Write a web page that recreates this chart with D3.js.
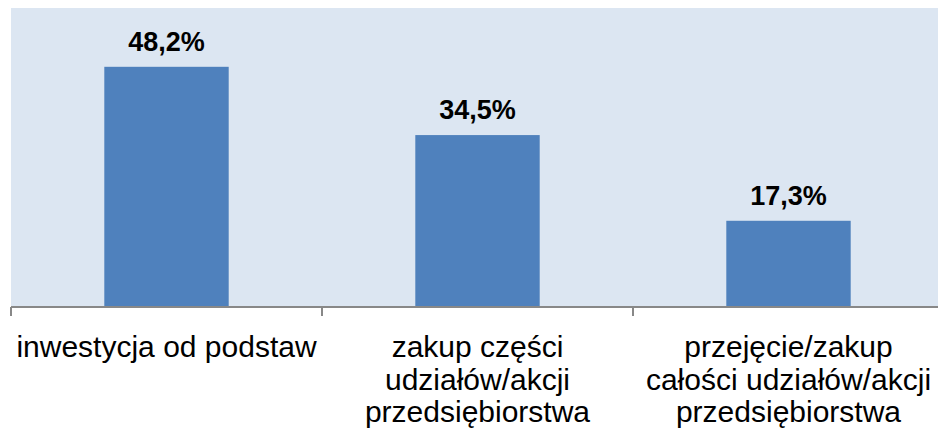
<!DOCTYPE html>
<html><head><meta charset="utf-8">
<script src="https://cdn.jsdelivr.net/npm/d3@7"></script>
<style>body{margin:0;background:#fff}svg{display:block}</style>
</head><body>
<svg id="c" width="938" height="433"></svg>
<script>
const categories = [
  ["inwestycja od podstaw"],
  ["zakup części", "udziałów/akcji", "przedsiębiorstwa"],
  ["przejęcie/zakup", "całości udziałów/akcji", "przedsiębiorstwa"]
];
const values = [48.2, 34.5, 17.3];
const valueLabels = ["48,2%", "34,5%", "17,3%"];

(function() {
const svg = d3.select("#c");
const W = 938, H = 433;
const mLeft = 11, mTop = 8, mBottom = 307;
const ids = categories.map((c, i) => i);
const x = d3.scaleBand().domain(ids).range([mLeft, 944]).paddingInner(0).paddingOuter(0);
const y = d3.scaleLinear().domain([0, 60]).range([mBottom, mTop]);

svg.append("rect").attr("x", mLeft).attr("y", mTop).attr("width", W - mLeft).attr("height", mBottom - mTop).attr("fill", "#DCE6F2");

const bw = x.bandwidth();
svg.selectAll("rect.bar").data(values).enter().append("rect").attr("class", "bar")
  .attr("x", (d, i) => x(i) + bw * 0.3)
  .attr("width", bw * 0.4)
  .attr("y", d => y(d))
  .attr("height", d => y(0) - y(d))
  .attr("fill", "#4F81BD");

svg.selectAll("text.val").data(values).enter().append("text").attr("class", "val")
  .attr("x", (d, i) => x(i) + bw / 2)
  .attr("y", d => y(d) - 16)
  .attr("text-anchor", "middle")
  .attr("font-family", "Liberation Sans, Arial, sans-serif")
  .attr("font-weight", "bold")
  .attr("font-size", 27)
  .attr("fill", "#000")
  .text((d, i) => valueLabels[i]);

const axisColor = "#888888";
svg.append("line").attr("x1", mLeft).attr("x2", W).attr("y1", mBottom).attr("y2", mBottom)
  .attr("stroke", axisColor).attr("stroke-width", 2);
const tickXs = ids.map(i => x(i)).concat([x(ids.length - 1) + bw]);
svg.selectAll("line.tick").data(tickXs).enter().append("line").attr("class", "tick")
  .attr("x1", d => Math.round(d)).attr("x2", d => Math.round(d))
  .attr("y1", mBottom).attr("y2", mBottom + 9)
  .attr("stroke", axisColor).attr("stroke-width", 2);

const g = svg.selectAll("text.cat").data(categories).enter().append("text").attr("class", "cat")
  .attr("text-anchor", "middle")
  .attr("font-family", "Liberation Sans, Arial, sans-serif")
  .attr("font-size", 30)
  .attr("fill", "#000");
g.each(function(lines, i) {
  const t = d3.select(this);
  lines.forEach((l, j) => {
    t.append("tspan").attr("x", x(i) + bw / 2).attr("y", 357 + j * 32.5).text(l);
  });
});
})();
</script>
</body></html>
